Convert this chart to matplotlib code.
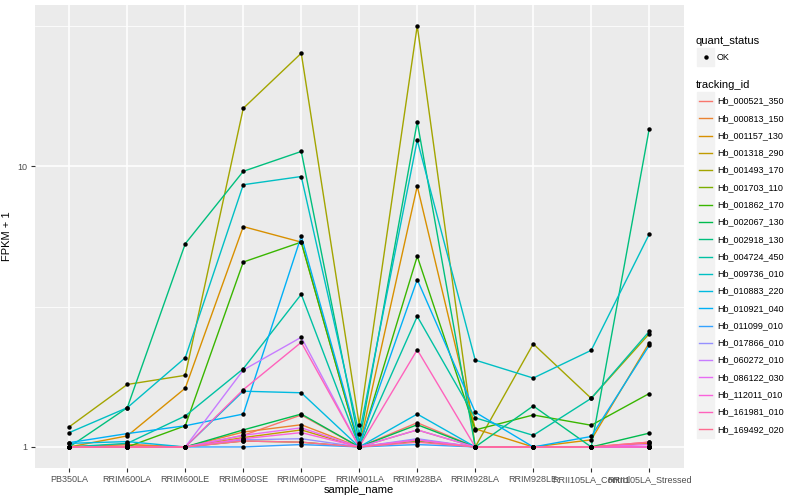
import numpy as np
import matplotlib
matplotlib.use('Agg')
from matplotlib import pyplot as plt
from matplotlib.lines import Line2D
from matplotlib.patches import Rectangle

plt.rcParams['font.family'] = ['Liberation Sans', 'DejaVu Sans']

samples = ['PB350LA', 'RRIM600LA', 'RRIM600LE', 'RRIM600SE', 'RRIM600PE',
           'RRIM901LA', 'RRIM928BA', 'RRIM928LA', 'RRIM928LE',
           'RRII105LA_Control', 'RRII105LA_Stressed']

tracking_ids = ['Hb_000521_350', 'Hb_000813_150', 'Hb_001157_130', 'Hb_001318_290',
                'Hb_001493_170', 'Hb_001703_110', 'Hb_001862_170', 'Hb_002067_130',
                'Hb_002918_130', 'Hb_004724_450', 'Hb_009736_010', 'Hb_010883_220',
                'Hb_010921_040', 'Hb_011099_010', 'Hb_017866_010', 'Hb_060272_010',
                'Hb_086122_030', 'Hb_112011_010', 'Hb_161981_010', 'Hb_169492_020']

# FPKM + 1, one list per tracking id, in sample order
fpkm = [
    [1.0, 1.02, 1.0, 1.10, 1.30, 1.0, 1.22, 1.0, 1.0, 1.0, 1.04],
    [1.0, 1.02, 1.0, 1.13, 1.20, 1.0, 1.15, 1.0, 1.0, 1.0, 1.03],
    [1.0, 1.095, 1.62, 6.1, 5.37, 1.0, 8.5, 1.16, 1.0, 1.06, 2.35],
    [1.0, 1.0, 1.0, 1.08, 1.15, 1.0, 1.06, 1.0, 1.0, 1.0, 1.0],
    [1.18, 1.67, 1.80, 16.1, 25.3, 1.2, 31.7, 1.0, 2.33, 1.49, 2.53],
    [1.0, 1.0, 1.0, 1.05, 1.04, 1.0, 1.05, 1.0, 1.0, 1.0, 1.0],
    [1.0, 1.0, 1.19, 4.56, 5.37, 1.0, 4.78, 1.15, 1.30, 1.195, 1.55],
    [1.0, 1.0, 1.0, 1.15, 1.31, 1.0, 1.20, 1.0, 1.0, 1.0, 1.12],
    [1.0, 1.38, 5.3, 9.6, 11.3, 1.036, 14.4, 1.0, 1.40, 1.0, 13.6],
    [1.0, 1.03, 1.29, 1.9, 3.5, 1.0, 2.92, 1.27, 1.10, 1.49, 2.58],
    [1.125, 1.38, 2.08, 8.6, 9.2, 1.11, 12.4, 2.04, 1.76, 2.21, 5.73],
    [1.03, 1.045, 1.0, 1.58, 1.56, 1.0, 1.31, 1.0, 1.0, 1.0, 1.0],
    [1.036, 1.116, 1.19, 1.31, 5.64, 1.02, 3.95, 1.33, 1.0, 1.09, 2.30],
    [1.0, 1.0, 1.0, 1.0, 1.02, 1.0, 1.02, 1.0, 1.0, 1.0, 1.0],
    [1.0, 1.0, 1.0, 1.06, 1.07, 1.0, 1.07, 1.0, 1.0, 1.0, 1.0],
    [1.0, 1.0, 1.0, 1.88, 2.46, 1.0, 1.06, 1.0, 1.0, 1.0, 1.0],
    [1.0, 1.0, 1.0, 1.10, 1.17, 1.0, 1.15, 1.0, 1.0, 1.0, 1.02],
    [1.0, 1.0, 1.0, 1.07, 1.125, 1.0, 1.06, 1.0, 1.0, 1.0, 1.0],
    [1.0, 1.0, 1.0, 1.6, 2.36, 1.0, 2.22, 1.0, 1.0, 1.0, 1.0],
    [1.0, 1.0, 1.0, 1.05, 1.04, 1.0, 1.04, 1.0, 1.0, 1.0, 1.04],
]

colors = ['#F8766D', '#EA8331', '#D89000', '#C09B00', '#A3A500', '#7CAE00',
          '#39B600', '#00BB4E', '#00BF7D', '#00C1A3', '#00BFC4', '#00BAE0',
          '#00B0F6', '#35A2FF', '#9590FF', '#C77CFF', '#E76BF3', '#FA62DB',
          '#FF62BC', '#FF6C91']

W, H = 800, 500
fig = plt.figure(figsize=(8, 5), dpi=100)
ax = fig.add_axes([34.5/W, 32/H, 649.5/W, 463/H])
ax.set_facecolor('#EBEBEB')
for s in ax.spines.values():
    s.set_visible(False)

x = np.arange(1, len(samples)+1)
for i, vals in enumerate(fpkm):
    ax.plot(x, vals, color=colors[i], lw=1.0, zorder=2+i*0.01)
for vals in fpkm:
    ax.plot(x, vals, 'o', color='black', ms=3.2, mec='none', zorder=4)

ax.set_yscale('log')
ax.set_ylim(10**-0.075, 10**1.575)
ax.set_xlim(0.4, len(samples)+0.6)
ax.set_yticks([1, 10])
ax.set_yticklabels(['1', '10'])
ax.yaxis.set_minor_locator(matplotlib.ticker.FixedLocator([10**0.5, 10**1.5]))
ax.yaxis.set_minor_formatter(matplotlib.ticker.NullFormatter())
ax.set_xticks(x)
ax.set_xticklabels(samples)
ax.grid(which='major', color='white', lw=1.1, zorder=0)
ax.grid(which='minor', axis='y', color='white', lw=0.55, zorder=0)
ax.set_axisbelow(True)
ax.tick_params(which='major', length=3, width=0.8, color='#333333',
               labelsize=6.5, labelcolor='#4D4D4D', pad=2)
ax.tick_params(which='minor', length=0)
ax.set_xlabel('sample_name', fontsize=8, labelpad=1)
ax.set_ylabel('FPKM + 1', fontsize=8, labelpad=4)

# legend, drawn by hand in pixel coordinates
def fx(px): return px / W
def fy(py): return 1 - py / H

fig.text(fx(696), fy(41), 'quant_status', fontsize=8, va='center')
fig.patches.append(Rectangle((fx(697), fy(65.5)), 17/W, 17/H,
                             transform=fig.transFigure, color='#F2F2F2'))
fig.lines.append(Line2D([fx(705.5)], [fy(57)], marker='o', ms=3.2, color='black',
                        mec='none', transform=fig.transFigure))
fig.text(fx(717), fy(57), 'OK', fontsize=6.5, va='center')

fig.text(fx(696), fy(84.5), 'tracking_id', fontsize=8, va='center')
for i, (tid, c) in enumerate(zip(tracking_ids, colors)):
    yc = 101 + i*17.28
    fig.patches.append(Rectangle((fx(697), fy(yc+8.5)), 17/W, 17/H,
                                 transform=fig.transFigure, color='#F2F2F2'))
    fig.lines.append(Line2D([fx(699), fx(712)], [fy(yc), fy(yc)], color=c, lw=1.0,
                            transform=fig.transFigure))
    fig.text(fx(717), fy(yc), tid, fontsize=6.5, va='center')

fig.savefig('out.png', dpi=100)
